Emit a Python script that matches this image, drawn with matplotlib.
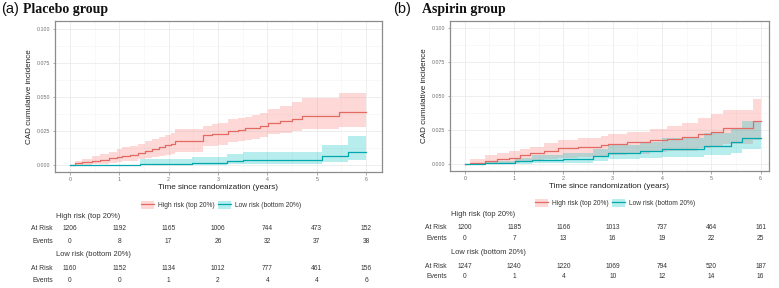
import numpy as np
import matplotlib
matplotlib.use("Agg")
import matplotlib.pyplot as plt
import matplotlib.transforms as mtransforms
from matplotlib.patches import Patch
from matplotlib.lines import Line2D
from matplotlib.legend_handler import HandlerTuple

plt.rcParams['font.family'] = ['Liberation Sans', 'DejaVu Sans']

# ---- data ----
tick_years = [0, 1, 2, 3, 4, 5, 6]

# placebo, high risk
plac_hi_t = [0, 0.10, 0.25, 0.45, 0.62, 0.80, 0.95, 1.05, 1.22, 1.39, 1.52, 1.66, 1.80, 1.93, 2.05,
             2.13, 2.70, 2.88, 3.00, 3.20, 3.40, 3.55, 3.68, 3.85, 4.02, 4.25, 4.50, 4.70, 5.44, 6.00]
plac_hi_est = [0, .0013, .0020, .0030, .0040, .0050, .0062, .0070, .0078, .0090, .0105, .0120, .0132, .0145, .0158,
               .0180, .0220, .0225, .0230, .0250, .0260, .0270, .0275, .0290, .0310, .0325, .0340, .0357, .0390, .0390]
plac_hi_lo = [0, 0, .0002, .0005, .0010, .0015, .0022, .0028, .0033, .0042, .0052, .0060, .0066, .0072, .0082,
              .0100, .0140, .0143, .0150, .0170, .0175, .0185, .0190, .0205, .0226, .0238, .0250, .0268, .0280, .0280]
plac_hi_hi = [0, .0030, .0045, .0066, .0082, .0098, .0115, .0130, .0142, .0158, .0175, .0190, .0205, .0220, .0235,
              .0268, .0290, .0300, .0310, .0337, .0345, .0355, .0366, .0385, .0410, .0430, .0460, .0490, .0530, .0530]

# placebo, low risk
plac_lo_t = [0, 1.42, 2.47, 3.18, 3.50, 5.10, 5.63, 6.00]
plac_lo_est = [0, .0010, .0017, .0030, .0040, .0066, .0096, .0096]
plac_lo_lo = [0, 0, .0001, .0005, .0008, .0020, .0037, .0037]
plac_lo_hi = [0, .0047, .0060, .0080, .0100, .0147, .0210, .0210]

# aspirin, high risk
asp_hi_t = [0, 0.10, 0.42, 0.65, 0.89, 1.12, 1.33, 1.60, 1.90, 2.30, 2.77, 2.90, 3.30, 3.75, 4.10,
            4.40, 4.73, 5.00, 5.23, 5.84, 6.00]
asp_hi_est = [0, .0012, .0025, .0035, .0047, .0066, .0080, .0100, .0120, .0130, .0140, .0150, .0160, .0177, .0187,
              .0197, .0220, .0240, .0268, .0320, .0320]
asp_hi_lo = [0, 0, .0004, .0008, .0012, .0016, .0020, .0035, .0047, .0055, .0060, .0065, .0078, .0090, .0095,
             .0100, .0120, .0135, .0150, .0177, .0177]
asp_hi_hi = [0, .0037, .0066, .0085, .0100, .0115, .0130, .0155, .0177, .0190, .0210, .0220, .0240, .0260, .0280,
             .0300, .0340, .0370, .0400, .0480, .0480]

# aspirin, low risk
asp_lo_t = [0, 0.42, 1.02, 1.36, 2.00, 2.60, 2.90, 3.55, 3.99, 4.86, 5.40, 5.63, 6.00]
asp_lo_est = [0, .0010, .0020, .0032, .0040, .0060, .0084, .0096, .0110, .0135, .0160, .0194, .0194]
asp_lo_lo = [0, 0, .0003, .0008, .0012, .0022, .0037, .0045, .0054, .0070, .0085, .0115, .0115]
asp_lo_hi = [0, .0020, .0047, .0065, .0080, .0110, .0145, .0165, .0190, .0230, .0270, .0320, .0320]

# risk tables
plac_hi_risk = [1206, 1192, 1165, 1006, 744, 473, 152]
plac_hi_events = [0, 8, 17, 26, 32, 37, 38]
plac_lo_risk = [1160, 1152, 1134, 1012, 777, 461, 156]
plac_lo_events = [0, 0, 1, 2, 4, 4, 6]
asp_hi_risk = [1200, 1185, 1166, 1013, 737, 464, 161]
asp_hi_events = [0, 7, 13, 16, 19, 22, 25]
asp_lo_risk = [1247, 1240, 1220, 1069, 794, 520, 187]
asp_lo_events = [0, 1, 4, 10, 12, 14, 16]

RED = '#F8766D'
TEAL = '#00BFC4'
RED_LINE = '#E26A63'
TEAL_LINE = '#00A7AC'

W, H = 779, 288
fig = plt.figure(figsize=(W / 100, H / 100), dpi=100)


def px_box(l, r, t, b):
    return [l / W, 1 - b / H, (r - l) / W, (b - t) / H]


def draw_curve(ax, t, est, lo, hi, fill, line):
    ax.fill_between(t, lo, hi, step='post', color=fill, alpha=0.28, linewidth=0)
    ax.step(t, est, where='post', color=line, linewidth=0.9)


def style_axes(ax, xmax):
    ax.set_xlim(-0.3, xmax)
    ax.set_ylim(-0.005, 0.1055)
    ax.set_xticks(tick_years)
    ax.set_yticks([0, 0.025, 0.05, 0.075, 0.1])
    ax.set_yticklabels(['0.000', '0.025', '0.050', '0.075', '0.100'])
    ax.set_xticks(np.arange(0.5, 6, 1), minor=True)
    ax.set_yticks(np.arange(0.0125, 0.1, 0.025), minor=True)
    ax.grid(True, which='major', color='#EBEBEB', linewidth=0.6)
    ax.grid(True, which='minor', color='#F3F3F3', linewidth=0.4)
    ax.set_axisbelow(True)
    ax.tick_params(which='major', labelsize=3.8, labelcolor='#6E6E6E', color='#8A8A8A',
                   length=1.8, width=0.5, pad=1.5)
    ax.tick_params(which='minor', length=0)
    for s in ax.spines.values():
        s.set_color('#8C8C8C')
        s.set_linewidth(0.9)
    ax.set_xlabel('Time since randomization (years)', fontsize=5.9, color='#222222', labelpad=2)
    ax.set_ylabel('CAD cumulative incidence', fontsize=5.9, color='#222222', labelpad=3)


def draw_table(ax, lab_x, rows_y, hi_risk, hi_ev, lo_risk, lo_ev):
    tr = mtransforms.blended_transform_factory(ax.transData, fig.transFigure)
    hdr_x = ax.get_position().x0 + 1.5 / W
    fy = lambda v: 1 - v / H
    kw = dict(color='#333333', va='center')
    fig.text(hdr_x, fy(rows_y[0]), 'High risk (top 20%)', fontsize=5.4, ha='left', **kw)
    fig.text(hdr_x, fy(rows_y[3]), 'Low risk (bottom 20%)', fontsize=5.4, ha='left', **kw)
    for name, yy in [('At Risk', rows_y[1]), ('Events', rows_y[2]), ('At Risk', rows_y[4]), ('Events', rows_y[5])]:
        fig.text(lab_x / W, fy(yy), name, fontsize=4.9, ha='right', **kw)
    for vals, yy in [(hi_risk, rows_y[1]), (hi_ev, rows_y[2]), (lo_risk, rows_y[4]), (lo_ev, rows_y[5])]:
        for xv, v in zip(tick_years, vals):
            ax.text(xv, fy(yy), str(v), transform=tr, fontsize=4.8, ha='center', **kw)


def draw_legend(ax, cx, cy):
    h1 = (Patch(facecolor=RED, alpha=0.28, linewidth=0), Line2D([], [], color=RED_LINE, linewidth=0.9))
    h2 = (Patch(facecolor=TEAL, alpha=0.28, linewidth=0), Line2D([], [], color=TEAL_LINE, linewidth=0.9))
    ax.legend([h1, h2], ['High risk (top 20%)', 'Low risk (bottom 20%)'],
              handler_map={tuple: HandlerTuple(ndivide=1, pad=0)},
              ncol=2, loc='center', bbox_to_anchor=(cx / W, 1 - cy / H), bbox_transform=fig.transFigure,
              frameon=False, fontsize=4.8, handlelength=1.9, handleheight=1.4,
              handletextpad=0.6, columnspacing=0.6, labelcolor='#333333')


# ---- panel (a) ----
ax1 = fig.add_axes(px_box(55, 382, 21, 172))
draw_curve(ax1, plac_hi_t, plac_hi_est, plac_hi_lo, plac_hi_hi, RED, RED_LINE)
draw_curve(ax1, plac_lo_t, plac_lo_est, plac_lo_lo, plac_lo_hi, TEAL, TEAL_LINE)
style_axes(ax1, 6.32)
draw_legend(ax1, 221, 205)
draw_table(ax1, 53, [217, 229, 241.5, 255, 268.5, 280], plac_hi_risk, plac_hi_events, plac_lo_risk, plac_lo_events)
fig.text(1 / W, 1 - 9 / H, '(a)', fontsize=10.5, va='center', ha='left', color='#111111')
fig.text(23 / W, 1 - 9.5 / H, 'Placebo group', fontsize=10, fontweight='bold', va='center', ha='left',
         family='Liberation Serif', color='#111111')

# ---- panel (b) ----
ax2 = fig.add_axes(px_box(450, 769, 21, 171))
draw_curve(ax2, asp_hi_t, asp_hi_est, asp_hi_lo, asp_hi_hi, RED, RED_LINE)
draw_curve(ax2, asp_lo_t, asp_lo_est, asp_lo_lo, asp_lo_hi, TEAL, TEAL_LINE)
style_axes(ax2, 6.17)
draw_legend(ax2, 615, 203)
draw_table(ax2, 447, [214, 227.5, 239, 252, 266, 277], asp_hi_risk, asp_hi_events, asp_lo_risk, asp_lo_events)
fig.text(393 / W, 1 - 9 / H, '(b)', fontsize=10.5, va='center', ha='left', color='#111111')
fig.text(422 / W, 1 - 9.5 / H, 'Aspirin group', fontsize=10, fontweight='bold', va='center', ha='left',
         family='Liberation Serif', color='#111111')

fig.savefig('out.png', dpi=100)
